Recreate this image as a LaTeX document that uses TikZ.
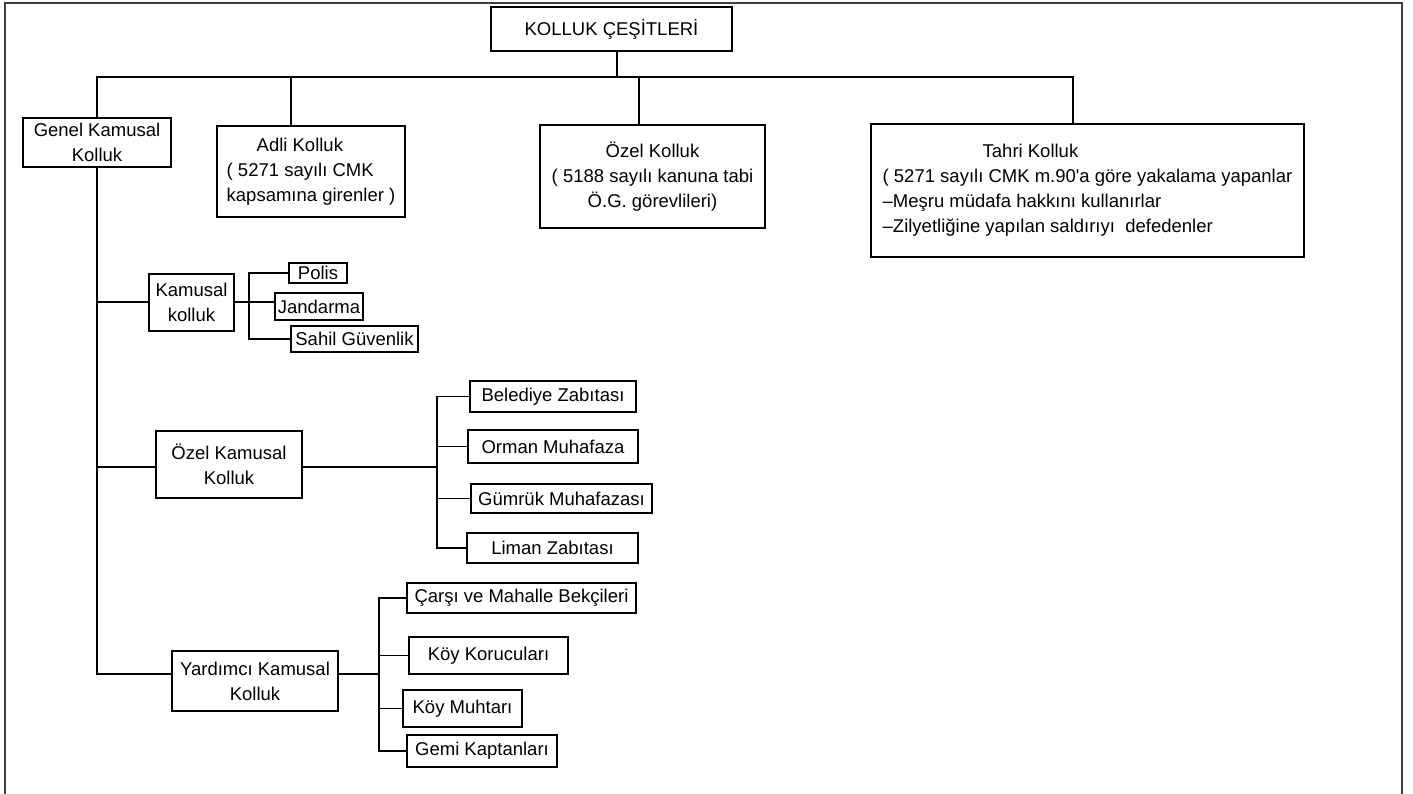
\documentclass[tikz,border=0pt]{standalone}
\usepackage{fontspec}
\setmainfont{Liberation Sans}
\tikzset{
box/.style={draw, line width=1.3pt, inner sep=0pt, align=center, font=\fontsize{18.5}{25}\selectfont}, % every rectangle of the chart
link/.style={line width=1.3pt}, % the lines between the rectangles
frame/.style={line width=1.2pt, black!75}, % the border of the page
}
\begin{document}
\begin{tikzpicture}[x=1pt, y=-1pt]
\useasboundingbox (0,0) rectangle (1413,794);
\draw[frame] (5,794) -- (5,3) -- (1402,3) -- (1402,794);

\node[box, minimum width=241pt, minimum height=44pt] at (611.5, 29) (top) {KOLLUK ÇEŞİTLERİ};

\node[box, minimum width=148pt, minimum height=49pt] at (97, 142.5) (genel) {Genel Kamusal\\Kolluk};
\node[box, align=left, minimum width=188pt, minimum height=91pt] at (311, 171.5) (adli) {\hspace*{30pt}Adli Kolluk\\( 5271 sayılı CMK\\kapsamına girenler )};
\node[box, minimum width=225pt, minimum height=103pt] at (652.5, 176.5) (ozel) {Özel Kolluk\\( 5188 sayılı kanuna tabi\\Ö.G. görevlileri)};
\node[box, align=left, minimum width=433pt, minimum height=133pt] at (1087.5, 190.5) (tahri) {\hspace*{100pt}Tahri Kolluk\\( 5271 sayılı CMK m.90\textquotesingle{}a göre yakalama yapanlar\\–Meşru müdafa hakkını kullanırlar\\–Zilyetliğine yapılan saldırıyı\ \ defedenler};

\node[box, minimum width=85pt, minimum height=57pt] at (191.5, 302.5) (kamusal) {Kamusal\\kolluk};
\node[box, minimum width=58pt, minimum height=20pt] at (318, 273) (polis) {Polis};
\node[box, minimum width=88pt, minimum height=27pt] at (319, 306.5) (jandarma) {Jandarma};
\node[box, minimum width=127pt, minimum height=26pt] at (354.5, 339) (sahil) {Sahil Güvenlik};

\node[box, minimum width=146pt, minimum height=67pt] at (229, 464.5) (ozelkam) {Özel Kamusal\\Kolluk};
\node[box, minimum width=166pt, minimum height=31pt] at (553, 396.5) (belediye) {Belediye Zabıtası};
\node[box, minimum width=170pt, minimum height=33pt] at (553, 446.5) (orman) {Orman Muhafaza};
\node[box, minimum width=181pt, minimum height=29pt] at (561.5, 498.5) (gumruk) {Gümrük Muhafazası};
\node[box, minimum width=171pt, minimum height=30pt] at (552.5, 548) (liman) {Liman Zabıtası};

\node[box, minimum width=166pt, minimum height=60pt] at (255, 681) (yardimci) {Yardımcı Kamusal\\Kolluk};
\node[box, minimum width=229pt, minimum height=30pt] at (521.5, 598) (carsi) {Çarşı ve Mahalle Bekçileri};
\node[box, minimum width=159pt, minimum height=37pt] at (488.5, 655.5) (koruculari) {Köy Korucuları};
\node[box, minimum width=119pt, minimum height=37pt] at (462.5, 708.5) (muhtari) {Köy Muhtarı};
\node[box, minimum width=150pt, minimum height=32pt] at (482, 751) (gemi) {Gemi Kaptanları};

\coordinate (root) at (617, 77);
\coordinate (adliT) at (291, 77);
\coordinate (ozelT) at (639, 77);
\coordinate (tahriT) at (1073, 77);
\coordinate (k1) at (97, 302);
\coordinate (k2) at (97, 467);
\coordinate (k3) at (97, 674);
\coordinate (s1) at (249, 302);
\coordinate (s2) at (437, 467);
\coordinate (s3) at (379, 674);

\draw[link] (root |- top.south) -- (root);
\draw[link] (genel.north) |- (tahriT) -- (tahriT |- tahri.north);
\draw[link] (adliT) -- (adliT |- adli.north);
\draw[link] (ozelT) -- (ozelT |- ozel.north);

\draw[link] (genel.south) -- (k3) -- (k3 -| yardimci.west);
\draw[link] (k1) -- (k1 -| kamusal.west);
\draw[link] (k2) -- (k2 -| ozelkam.west);

\draw[link] (kamusal.east |- s1) -- (s1 -| jandarma.west);
\draw[link] (polis.west) -| (s1) |- (sahil.west);

\draw[link] (ozelkam.east |- s2) -- (s2);
\draw[link] (belediye.west) -| (s2) |- (liman.west);
\draw[link] (orman.west) -- (orman.west -| s2);
\draw[link] (gumruk.west) -- (gumruk.west -| s2);

\draw[link] (yardimci.east |- s3) -- (s3);
\draw[link] (carsi.west) -| (s3) |- (gemi.west);
\draw[link] (koruculari.west) -- (koruculari.west -| s3);
\draw[link] (muhtari.west) -- (muhtari.west -| s3);

\end{tikzpicture}
\end{document}
